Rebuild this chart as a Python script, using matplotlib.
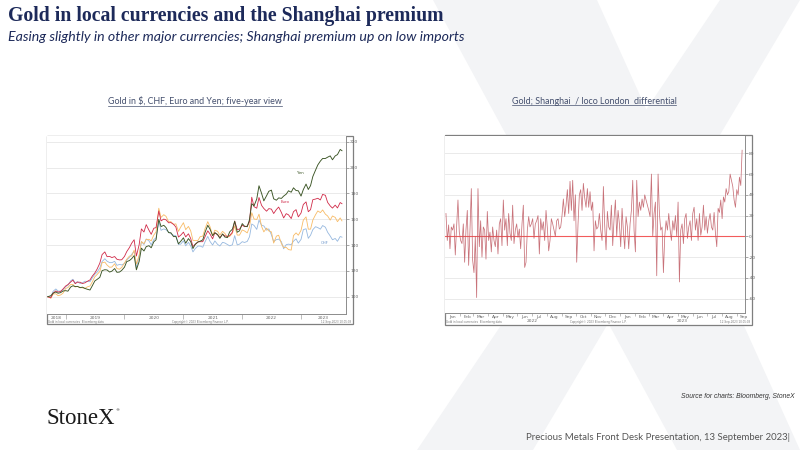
import matplotlib
matplotlib.use('Agg')
import matplotlib.pyplot as plt
import matplotlib.dates as mdates
from matplotlib.patches import Rectangle, Polygon
from matplotlib.lines import Line2D
import matplotlib.transforms as mtrans
import numpy as np
import pandas as pd

# ---------------- data: left chart (gold rebased to 100, half-monthly) ----------------
gold_usd = [100.0, 98.8, 102.1, 102.3, 100.8, 101.4, 102.7,
            106.4, 107.1, 109.5, 109.5, 107.5, 108.0, 107.1, 106.9, 106.5, 107.6, 108.3, 111.4,
            115.4, 117.2, 119.5, 126.3, 126.8, 124.5, 122.8, 123.0, 125.5, 121.8, 121.3, 122.7,
            126.1, 129.0, 131.5, 131.5, 136.1, 125.3, 132.0, 142.7, 141.1, 144.4, 144.4, 143.2,
            147.7, 150.2, 168.5, 161.4, 163.5, 162.2, 158.1, 158.1, 156.0, 156.4, 150.6, 153.9,
            157.3, 151.9, 154.4, 151.0, 143.6, 143.6, 143.6, 146.5, 146.9, 152.7, 158.1, 154.2,
            147.3, 151.5, 150.6, 147.7, 150.6, 149.0, 146.1, 146.7, 149.0, 154.8, 147.7, 147.7,
            151.7, 150.9, 149.4, 153.9, 165.1, 160.2, 159.8, 163.9, 154.4, 150.2, 153.1, 150.9,
            150.2, 141.5, 146.9, 147.6, 141.1, 138.2, 138.2, 136.5, 136.1, 147.3, 149.4, 147.6,
            151.4, 159.3, 161.8, 152.3, 152.3, 159.3, 163.5, 166.4, 165.1, 167.2, 163.9, 162.5,
            159.3, 162.5, 161.4, 158.1, 161.0, 158.7]
gold_eur = [100.0, 99.2, 102.8, 104.5, 103.6, 104.1, 105.9,
            108.3, 109.4, 111.4, 112.9, 110.1, 111.3, 111.2, 110.2, 110.8, 111.9, 113.0, 115.9,
            118.4, 121.4, 126.0, 132.6, 134.7, 131.0, 131.2, 130.3, 131.1, 129.0, 128.5, 128.6,
            131.2, 134.9, 138.1, 141.5, 144.1, 131.5, 140.2, 152.5, 150.1, 155.8, 151.5, 148.3,
            153.0, 153.5, 166.4, 158.7, 160.1, 159.5, 157.2, 157.4, 156.0, 154.0, 146.2, 147.6,
            150.0, 146.3, 148.7, 145.1, 138.8, 140.6, 142.4, 142.6, 142.6, 146.4, 151.0, 148.5,
            144.8, 149.6, 147.8, 145.8, 148.3, 147.1, 146.7, 147.3, 150.0, 158.6, 152.0, 152.3,
            155.4, 154.2, 154.7, 158.0, 177.0, 169.7, 168.5, 176.8, 170.7, 168.3, 166.2, 168.2,
            167.8, 164.4, 167.5, 169.4, 165.2, 161.0, 164.3, 163.4, 160.5, 165.8, 167.4, 161.8,
            164.8, 171.4, 173.4, 165.8, 167.4, 175.1, 175.6, 176.2, 174.9, 179.2, 178.5, 173.0,
            170.3, 168.6, 170.9, 168.7, 172.9, 172.0]
gold_chf = [100.0, 99.8, 104.2, 106.0, 104.4, 104.3, 105.3,
            107.8, 108.8, 112.3, 113.5, 110.6, 111.7, 110.2, 110.8, 112.0, 111.8, 111.6, 114.5,
            117.4, 119.0, 122.3, 127.2, 129.4, 127.5, 126.4, 126.4, 127.4, 124.3, 125.0, 124.6,
            125.7, 128.5, 130.4, 132.9, 135.1, 122.1, 131.3, 142.7, 140.4, 144.7, 143.2, 140.2,
            144.2, 145.6, 158.4, 151.4, 152.5, 151.8, 150.0, 148.8, 147.5, 147.2, 140.5, 140.7,
            143.3, 139.4, 142.1, 139.3, 134.7, 137.2, 139.2, 139.2, 138.3, 142.5, 146.7, 142.8,
            140.0, 143.2, 140.5, 139.3, 142.1, 141.6, 140.4, 139.4, 140.2, 147.3, 140.1, 140.7,
            142.6, 142.0, 142.8, 146.4, 156.3, 155.2, 152.1, 159.3, 155.2, 154.8, 151.5, 152.5,
            147.9, 142.7, 144.2, 144.6, 142.6, 137.1, 140.3, 140.7, 140.3, 143.0, 144.8, 141.5,
            144.4, 151.9, 152.6, 145.2, 147.6, 151.9, 154.2, 153.5, 152.3, 155.1, 153.8, 149.9,
            147.0, 144.1, 145.1, 142.9, 146.6, 146.1]
gold_jpy = [100.0, 100.8, 102.7, 103.7, 102.7, 103.2, 104.4,
            104.7, 104.3, 107.5, 108.5, 107.9, 108.0, 107.0, 107.4, 106.4, 105.8, 105.2, 108.4,
            112.2, 113.4, 115.0, 120.2, 120.9, 120.7, 119.1, 119.8, 121.8, 118.9, 119.1, 120.4,
            122.9, 127.2, 128.0, 129.5, 131.8, 120.8, 127.3, 137.6, 135.4, 138.8, 139.5, 137.9,
            142.5, 144.1, 159.9, 154.3, 155.3, 153.5, 149.6, 149.5, 146.5, 146.7, 140.9, 142.9,
            145.6, 141.4, 145.0, 142.7, 137.3, 140.5, 142.4, 143.0, 144.0, 149.8, 155.3, 152.3,
            147.3, 149.5, 148.2, 145.2, 148.6, 146.2, 145.8, 150.2, 152.3, 158.4, 149.9, 151.0,
            156.6, 154.6, 154.2, 159.6, 172.0, 170.3, 175.6, 185.9, 180.0, 174.2, 178.2, 181.6,
            182.5, 175.8, 174.7, 176.5, 176.1, 177.9, 179.4, 182.0, 180.9, 184.3, 182.2, 182.0,
            177.9, 182.9, 187.2, 183.0, 186.0, 193.0, 198.0, 202.0, 205.0, 207.0, 207.0, 208.0,
            209.0, 206.0, 209.0, 210.0, 214.0, 213.0]
left_dates = ([pd.Timestamp('2018-09-12')]
              + list(pd.date_range('2018-10-01', '2023-09-01', freq='SMS'))
              + [pd.Timestamp('2023-09-12')])
left_yticks = [100, 120, 140, 160, 180, 200, 220]
left_years = [2018, 2019, 2020, 2021, 2022, 2023]

# ---------------- data: right chart (Shanghai premium, $/oz) ----------------
premium = [22, -4, 11, -12, 9, 6, 12, -18, 10, 35, 4,
           -4, -7, 12, -25, 6, 25, -28, 6, 46, -23, -35,
           0, -59, 46, -10, 15, -20, 9, 6, -22, 24, -4,
           4, -15, 9, -4, -10, 6, -17, 12, 17, -9, 35,
           6, 17, -9, 22, 3, -4, 30, -7, 6, 12, -1,
           7, -12, 12, 30, -30, -25, 6, 19, 9, 12, 17,
           -2, 12, 15, 20, -17, 17, 6, 14, -4, 25, 8,
           -14, -4, 17, 12, 6, 0, 15, 17, 7, 9, 20,
           36, 19, 30, 45, 22, 53, 25, 54, 15, 40, -25,
           12, 40, 45, 25, 51, 37, 28, 46, 28, 43, 25,
           33, -14, 15, 7, 9, 22, 6, -4, 48, 10, -13,
           24, 9, 6, 30, -9, 17, 35, 0, 25, 12, -10,
           27, 5, -12, 19, 9, -12, 12, 25, 54, 6, -15,
           54, 19, 33, 25, 36, 28, 40, 35, 30, 25, 19,
           60, 0, 22, 33, -38, 60, 22, 6, 9, -35, 0,
           15, 6, 22, 7, -4, 15, 6, 20, 0, 33, -44,
           6, 12, -7, 17, 22, -2, 9, 15, -4, 22, 28,
           6, 17, -4, 22, 1, 9, 30, 6, 19, 3, 15,
           22, 9, 6, 23, 3, -10, 27, 23, 35, 17, 38,
           33, 46, 40, 43, 60, 54, 48, 35, 28, 45, 40,
           57, 49, 83]
right_yticks = [-60, -40, -20, 0, 20, 40, 60, 80]
right_years = [2022, 2023]

# ---------------- figure ----------------
W, H = 800, 450
fig = plt.figure(figsize=(8, 4.5), dpi=100)
fig.patch.set_facecolor('white')


def fx(x):
    return x / W


def fy(y):
    return 1 - y / H


def P(pts):
    return [(fx(a), fy(b)) for a, b in pts]


# faint "X" watermark
wm = '#f3f4f6'
fig.patches.append(Polygon(P([(433, 0), (597, 0), (800, 450), (677, 450)]), closed=True,
                           transform=fig.transFigure, facecolor=wm, edgecolor='none', zorder=-3))
fig.patches.append(Polygon(P([(720, 0), (800, 0), (533, 450), (417, 450)]), closed=True,
                           transform=fig.transFigure, facecolor=wm, edgecolor='none', zorder=-3))

navy = '#1d2a5a'
fig.text(fx(8), fy(16), 'Gold in local currencies and the Shanghai premium',
         family='Liberation Serif', weight='bold', fontsize=14.2, color=navy, va='center')
fig.text(fx(8), fy(37), 'Easing slightly in other major currencies; Shanghai premium up on low imports',
         family='Lato', style='italic', fontsize=10.2, color=navy, va='center')

cap_col = '#45506e'
cap1 = fig.text(fx(195), fy(101), 'Gold in $, CHF, Euro and Yen; five-year view',
                family='Lato', fontsize=6.4, color=cap_col, ha='center', va='center')
cap2 = fig.text(fx(594), fy(101), 'Gold; Shanghai  / loco London  differential',
                family='Lato', fontsize=6.4, color=cap_col, ha='center', va='center')

fig.text(fx(795), fy(397), 'Source for charts: Bloomberg, StoneX', family='Liberation Sans',
         style='italic', fontsize=4.9, color='#333333', ha='right', va='center')
fig.text(fx(46), fy(418), 'StoneX', family='Liberation Serif', fontsize=16.5, color='#1a1a1a',
         va='center')
fig.text(fx(115), fy(410), '®', family='DejaVu Sans', fontsize=3, color='#1a1a1a', va='center')
fig.text(fx(790), fy(437), 'Precious Metals Front Desk Presentation, 13 September 2023|',
         family='Lato', fontsize=6.9, color='#555555', ha='right', va='center')

# chart frames (Bloomberg images)
frame_col = '#7f7f7f'
fig.patches.append(Rectangle((fx(47.3), fy(323.5)), fx(353) - fx(47.3), fy(135.5) - fy(323.5),
                             transform=fig.transFigure, facecolor='white', edgecolor=frame_col,
                             lw=0.9, zorder=-1))
fig.patches.append(Rectangle((fx(445), fy(324.5)), fx(752) - fx(445), fy(135.5) - fy(324.5),
                             transform=fig.transFigure, facecolor='white', edgecolor=frame_col,
                             lw=0.9, zorder=-1))

tick_col = '#666666'
grid_col = '#e6e6e6'


def style_axes(ax):
    ax.set_facecolor('white')
    for s in ['left', 'top']:
        ax.spines[s].set_visible(False)
    for s in ['right', 'bottom']:
        ax.spines[s].set_color('#8c8c8c')
        ax.spines[s].set_linewidth(0.7)
    ax.yaxis.tick_right()
    ax.tick_params(axis='y', which='major', labelsize=3.2, colors=tick_col, length=1.8,
                   width=0.4, pad=1.2, direction='out')
    ax.tick_params(axis='x', which='major', length=3.5, width=0.4, colors='#8c8c8c',
                   labelbottom=False, direction='out')
    ax.tick_params(axis='x', which='minor', length=0, labelsize=3.2, labelcolor=tick_col, pad=1.2)
    ax.grid(axis='y', color=grid_col, lw=0.6)
    ax.set_axisbelow(True)


# ---------------- left chart ----------------
ax1 = fig.add_axes([fx(47.3), fy(314.3), fx(346) - fx(47.3), fy(136) - fy(314.3)])
style_axes(ax1)
ax1.plot(left_dates, gold_chf, color='#96b8df', lw=0.6)
ax1.plot(left_dates, gold_usd, color='#f8bb66', lw=0.6)
ax1.plot(left_dates, gold_eur, color='#d02a48', lw=0.6)
ax1.plot(left_dates, gold_jpy, color='#3a5424', lw=0.65)
x0l, x1l = mdates.date2num(pd.Timestamp('2018-09-09')), mdates.date2num(pd.Timestamp('2023-10-07'))
ax1.set_xlim(x0l, x1l)
ax1.set_ylim(86.4, 224.4)
ax1.set_yticks(left_yticks)
ax1.set_yticklabels([str(v) for v in left_yticks])
ystarts = [mdates.date2num(pd.Timestamp(f'{y}-01-01')) for y in left_years[1:]]
ax1.set_xticks(ystarts)
mids = []
for y in left_years:
    a = max(x0l, mdates.date2num(pd.Timestamp(f'{y}-01-01')))
    b = min(x1l, mdates.date2num(pd.Timestamp(f'{y + 1}-01-01')))
    mids.append((a + b) / 2)
ax1.set_xticks(mids, minor=True)
ax1.set_xticklabels([str(y) for y in left_years], minor=True)
ax1.text(pd.Timestamp('2022-12-25'), 195.8, 'Yen', fontsize=2.8, color='#3a5424', ha='center', va='center')
ax1.text(pd.Timestamp('2022-09-24'), 173, 'Euro', fontsize=2.8, color='#d02a48', ha='center', va='center')
ax1.text(pd.Timestamp('2023-05-30'), 141.6, 'CHF', fontsize=2.8, color='#6f98cc', ha='center', va='center')

# ---------------- right chart ----------------
ax2 = fig.add_axes([fx(445), fy(313.3), fx(745) - fx(445), fy(136) - fy(313.3)])
style_axes(ax2)
right_dates = pd.date_range('2022-01-03', '2023-09-12', periods=len(premium))
ax2.axhline(0, color='#f25c5c', lw=0.8, zorder=2)
ax2.plot(right_dates, premium, color='#bf5962', lw=0.55, alpha=0.85, zorder=3)
x0r, x1r = mdates.date2num(pd.Timestamp('2022-01-01')), mdates.date2num(pd.Timestamp('2023-09-18'))
ax2.set_xlim(x0r, x1r)
ax2.set_ylim(-74.2, 96.7)
ax2.set_yticks(right_yticks)
ax2.set_yticklabels([str(v) for v in right_yticks])
ax2.xaxis.set_major_locator(mdates.MonthLocator())
ax2.tick_params(axis='x', which='major', length=2.2)
month_starts = pd.date_range('2022-01-01', '2023-09-01', freq='MS')
mid_months = [mdates.date2num(m + pd.Timedelta(days=15)) for m in month_starts]
ax2.set_xticks(mid_months, minor=True)
ax2.set_xticklabels([m.strftime('%b') for m in month_starts], minor=True)
btrans = mtrans.blended_transform_factory(ax2.transData, ax2.transAxes)
for y in right_years:
    a = max(x0r, mdates.date2num(pd.Timestamp(f'{y}-01-01')))
    b = min(x1r, mdates.date2num(pd.Timestamp(f'{y + 1}-01-01')))
    ax2.text((a + b) / 2, -0.033, str(y), transform=btrans, fontsize=3.2, color=tick_col,
             ha='center', va='top')

# tiny Bloomberg footer strips
for xl, xr, xm in [(48.5, 351.5, 200), (446.5, 750.5, 598)]:
    fig.text(fx(xl), fy(321.8), 'Gold in local currencies  Bloomberg data', fontsize=2.0,
             color='#777777', va='center')
    fig.text(fx(xm), fy(321.8), 'Copyright© 2023 Bloomberg Finance L.P.', fontsize=2.0,
             color='#777777', va='center', ha='center')
    fig.text(fx(xr), fy(321.8), '12-Sep-2023 10:05:03', fontsize=2.0, color='#777777',
             va='center', ha='right')

# underline captions
fig.canvas.draw()
r = fig.canvas.get_renderer()
for t in (cap1, cap2):
    bb = t.get_window_extent(renderer=r)
    yy = bb.y0 + 0.3
    fig.lines.append(Line2D([bb.x0 / (W), bb.x1 / (W)], [yy / H, yy / H], transform=fig.transFigure,
                            color=cap_col, lw=0.5))

fig.savefig('out.png', dpi=100)
